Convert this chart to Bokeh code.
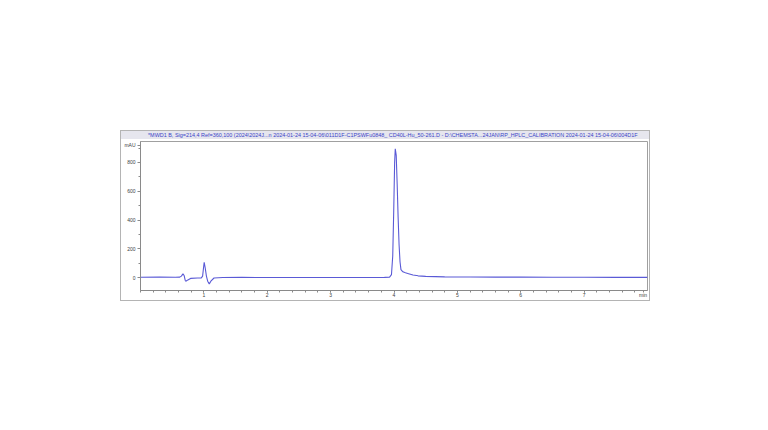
from bokeh.plotting import figure
from bokeh.models import Div, Range1d, FixedTicker, NumeralTickFormatter
from bokeh.layouts import column
from bokeh.embed import file_html
from bokeh.resources import INLINE

# Chromatogram signal (time in min, signal in mAU)
time_min = [0.0, 0.3, 0.55, 0.62, 0.645, 0.67, 0.69, 0.705, 0.715, 0.74, 0.79, 0.9,
            0.96, 0.98, 0.995, 1.005, 1.02, 1.04, 1.06, 1.085, 1.11, 1.16, 1.3,
            1.6, 2.0, 2.5, 3.0, 3.5, 3.85, 3.93, 3.96, 3.98, 3.995, 4.01, 4.02,
            4.035, 4.05, 4.065, 4.08, 4.095, 4.11, 4.14, 4.18, 4.23, 4.3, 4.38,
            4.5, 4.8, 5.2, 5.6, 6.0, 6.5, 7.0, 7.5, 8.0]
signal_mau = [2, 3, 2, 3, 10, 26, 12, -18, -26, -18, -6, -3,
              -2, 10, 70, 106, 70, 10, -25, -44, -25, -3, 0,
              1, 0, 0, 0, 0, 1, 3, 20, 150, 450, 800, 895,
              850, 650, 420, 230, 110, 55, 40, 33, 27, 18, 12,
              8, 5, 4, 3, 3, 2, 2, 1, 1]

y_ticks = [0, 200, 400, 600, 800]
x_ticks = [1, 2, 3, 4, 5, 6, 7]
title_text = ("*MWD1 B, Sig=214,4 Ref=360,100 (2024\\2024J...n 2024-01-24 15-04-06\\011D1F-C1PSWFu0848_ "
              "CD40L-Hu_50-261.D - D:\\CHEMSTA...24JAN\\RP_HPLC_CALIBRATION 2024-01-24 15-04-06\\004D1F")
y_unit = "mAU"
x_unit = "min"
y_unit_pos = 920     # where the unit label sits on the y axis
x_unit_pos = 7.93    # where the unit label sits on the x axis

FONT = "Liberation Sans"
LINE = "#5a5ad6"
GRAY = "#8a8a8a"

div = Div(text=title_text, width=528, height=9, margin=0,
          styles={"background-color": "#e6e6ee", "color": "#3a44c8",
                  "font-size": "5.45px", "font-family": FONT,
                  "white-space": "nowrap", "overflow": "hidden",
                  "line-height": "8px", "padding-left": "27px",
                  "box-sizing": "border-box",
                  "border-top": "1px solid #b4b4b4"})

p = figure(width=528, height=161, output_backend="svg", toolbar_location=None,
           x_range=Range1d(0, 8.0), y_range=Range1d(-90, 946), margin=0,
           min_border_left=19, min_border_right=2, min_border_top=2, min_border_bottom=10)
p.background_fill_color = "white"
p.border_fill_color = "white"
p.outline_line_color = "#a0a0a0"
p.grid.visible = False

p.line(time_min, signal_mau, line_color=LINE, line_width=1.1)

for ax in (p.xaxis[0], p.yaxis[0]):
    ax.axis_line_color = GRAY
    ax.major_tick_line_color = GRAY
    ax.minor_tick_line_color = GRAY
    ax.major_label_text_font = FONT
    ax.major_label_text_font_size = "5px"
    ax.major_label_text_color = "#404040"
    ax.major_tick_in = 0
    ax.minor_tick_in = 0
    ax.formatter = NumeralTickFormatter(format="0")

p.yaxis[0].major_tick_out = 3
p.yaxis[0].minor_tick_out = 2
p.xaxis[0].major_tick_out = 2
p.xaxis[0].minor_tick_out = 2

p.yaxis[0].ticker = FixedTicker(ticks=y_ticks + [y_unit_pos],
                                minor_ticks=[-100] + [v + 100 for v in y_ticks])
p.xaxis[0].ticker = FixedTicker(ticks=x_ticks + [x_unit_pos],
                                minor_ticks=[round(i * 0.2, 1) for i in range(0, 40)])
p.yaxis[0].major_label_overrides = {y_unit_pos: y_unit}
p.xaxis[0].major_label_overrides = {x_unit_pos: x_unit}
p.yaxis[0].major_label_standoff = 2
p.xaxis[0].major_label_standoff = -1

lay = column(div, p, margin=(130, 0, 0, 120), spacing=0,
             styles={"border-left": "1px solid #b4b4b4", "border-right": "1px solid #b4b4b4",
                     "border-bottom": "1px solid #b4b4b4"})

open("out.html", "w").write(file_html(lay, INLINE))
